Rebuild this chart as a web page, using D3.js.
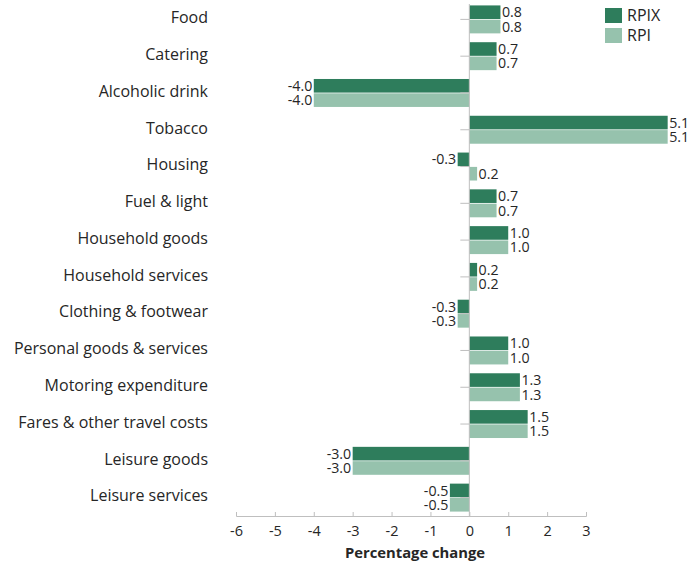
<!DOCTYPE html>
<html><head><meta charset="utf-8">
<script src="https://cdn.jsdelivr.net/npm/d3@7"></script>
<style>body{margin:0;background:#fff}svg{display:block}</style>
</head><body>
<svg id="c" width="691" height="567"></svg>
<script>
const categories = ["Food","Catering","Alcoholic drink","Tobacco","Housing","Fuel & light","Household goods","Household services","Clothing & footwear","Personal goods & services","Motoring expenditure","Fares & other travel costs","Leisure goods","Leisure services"];
const rpix = [0.8,0.7,-4.0,5.1,-0.3,0.7,1.0,0.2,-0.3,1.0,1.3,1.5,-3.0,-0.5];
const rpi  = [0.8,0.7,-4.0,5.1,0.2,0.7,1.0,0.2,-0.3,1.0,1.3,1.5,-3.0,-0.5];
const seriesNames = ["RPIX","RPI"];
const xTicks = [-6,-5,-4,-3,-2,-1,0,1,2,3];

const colors = ["#2E7D5C","#96C2AD"];
const font = "'Open Sans', sans-serif";
const svg = d3.select("#c");
const x = d3.scaleLinear().domain([-6,3]).range([236,586]);
const y = d3.scaleBand().domain(categories).range([1,516]).paddingInner(0.24).paddingOuter(0.12);
const inner = d3.scaleBand().domain(seriesNames).range([0,y.bandwidth()]).paddingInner(0.05);
const series = [rpix, rpi];

// bars
series.forEach((vals,si)=>{
  const g = svg.append("g");
  g.selectAll("rect").data(vals).join("rect")
    .attr("x",d=>x(Math.min(0,d)))
    .attr("width",d=>Math.abs(x(d)-x(0)))
    .attr("y",(d,i)=>y(categories[i])+inner(seriesNames[si]))
    .attr("height",inner.bandwidth())
    .attr("fill",colors[si]);
  g.selectAll("text").data(vals).join("text")
    .attr("x",d=>d>=0? x(d)+1.5 : x(d)-1.5)
    .attr("y",(d,i)=>y(categories[i])+inner(seriesNames[si])+inner.bandwidth()/2)
    .attr("dy","0.36em")
    .attr("text-anchor",d=>d>=0?"start":"end")
    .attr("font-family",font).attr("font-size",14.2).attr("fill","#262626")
    .text(d=>d.toFixed(1));
});

// zero line and category ticks
svg.append("line").attr("x1",x(0)).attr("x2",x(0)).attr("y1",y.range()[0]+3).attr("y2",516)
  .attr("stroke","#bfbfbf").attr("stroke-width",1);
svg.append("g").selectAll("line").data(categories).join("line")
  .attr("x1",x(0)-9).attr("x2",x(0))
  .attr("y1",d=>y(d)+y.bandwidth()/2).attr("y2",d=>y(d)+y.bandwidth()/2)
  .attr("stroke","#bfbfbf");

// category labels
svg.append("g").selectAll("text").data(categories).join("text")
  .attr("x",208).attr("y",d=>y(d)+y.bandwidth()/2-2)
  .attr("dy","0.36em").attr("text-anchor","end")
  .attr("font-family",font).attr("font-size",16).attr("fill","#262626")
  .text(d=>d);

// x axis
const ax = svg.append("g").attr("transform","translate(0,516)")
  .call(d3.axisBottom(x).tickValues(xTicks).tickSize(-4).tickPadding(10).tickFormat(d=>String(d)));
ax.select(".domain").attr("stroke","#bfbfbf");
ax.selectAll(".tick line").attr("stroke","#bfbfbf");
ax.selectAll(".tick text").attr("font-family",font).attr("font-size",14.5).attr("fill","#262626");

svg.append("text").attr("x",415).attr("y",558).attr("text-anchor","middle")
  .attr("font-family",font).attr("font-size",14.8).attr("font-weight","bold").attr("fill","#262626")
  .text("Percentage change");

// legend
const lg = svg.append("g");
seriesNames.forEach((n,i)=>{
  lg.append("rect").attr("x",605).attr("y",8+i*20).attr("width",17).attr("height",15).attr("fill",colors[i]);
  lg.append("text").attr("x",627).attr("y",15.5+i*20).attr("dy","0.36em")
    .attr("font-family",font).attr("font-size",16).attr("fill","#262626").text(n);
});
</script>
</body></html>
